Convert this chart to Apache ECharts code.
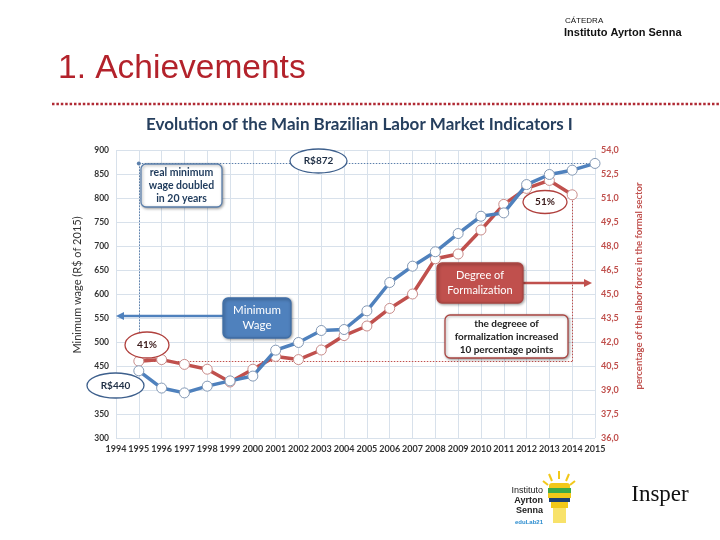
<!DOCTYPE html>
<html>
<head>
<meta charset="utf-8">
<script src="https://cdn.jsdelivr.net/npm/echarts@6/dist/echarts.min.js"></script>
<style>
html,body{margin:0;padding:0;background:#fff;}
#c{width:720px;height:540px;}
</style>
</head>
<body>
<div id="c"></div>
<script>
// ---- data ----
const years = ['1994','1995','1996','1997','1998','1999','2000','2001','2002','2003','2004','2005','2006','2007','2008','2009','2010','2011','2012','2013','2014','2015'];
const minimumWage = [null,440,404,394,408,419,429,483,499,524,526,565,624,658,688,726,762,769,828,849,858,872];
const formalization = [null,40.8,40.9,40.6,40.3,39.5,40.3,41.1,40.9,41.5,42.4,43.0,44.1,45.0,47.2,47.5,49.0,50.6,51.6,52.1,51.2,null];
const wageTicks = {min:300, max:900, step:50};
const formalTicks = {min:36, max:54, step:1.5};

const BLUE = '#4f81bd', RED = '#c0504d', NAVY = '#1f3b5c';
const F = 'Lato';

const chart = echarts.init(document.getElementById('c'), null, {renderer:'canvas'});

function boxText(x, y, w, h, lines, fill, stroke, color, fs, bold, lh){
  return {
    type:'group', z:100,
    children:[
      {type:'rect', shape:{x:x,y:y,width:w,height:h,r:5}, z:100,
       style:{fill:fill, stroke:stroke, lineWidth:1.3, shadowBlur:3, shadowColor:'rgba(0,0,0,0.35)', shadowOffsetY:1, shadowOffsetX:1}},
      {type:'text', z:101, x:x+w/2, y:y+h/2,
       style:{text:lines.join('\n'), fill:color, font:(bold?'bold ':'')+fs+'px '+F, align:'center', verticalAlign:'middle', lineHeight:lh||(fs+3)}}
    ]
  };
}
function ell(cx, cy, rx, ry, stroke, text, color){
  return {
    type:'group', z:100,
    children:[
      {type:'ellipse', z:100, shape:{cx:cx,cy:cy,rx:rx,ry:ry}, style:{fill:'#fff', stroke:stroke, lineWidth:1.3}},
      {type:'text', z:101, x:cx, y:cy, style:{text:text, fill:color, font:'bold 10px '+F, align:'center', verticalAlign:'middle'}}
    ]
  };
}

const option = {
  animation:false,
  backgroundColor:'#fff',
  grid:{left:116, right:125, top:150, bottom:102, containLabel:false},
  xAxis:{
    type:'category', data:years, boundaryGap:false,
    axisLine:{show:false}, axisTick:{show:false},
    axisLabel:{interval:0, fontFamily:F, fontSize:9, fontWeight:'bold', color:'#333', margin:7},
    splitLine:{show:true, lineStyle:{color:'#d8e1eb', width:1}}
  },
  yAxis:[
    {
      type:'value', min:wageTicks.min, max:wageTicks.max, interval:wageTicks.step,
      name:'Minimum wage (R$ of 2015)', nameLocation:'middle', nameRotate:90, nameGap:31,
      nameTextStyle:{fontFamily:F, fontSize:11, color:'#333', padding:[0,0,0,18]},
      axisLine:{show:false}, axisTick:{show:false},
      axisLabel:{fontFamily:F, fontSize:8.5, fontWeight:'bold', color:'#333', margin:7},
      splitLine:{show:true, lineStyle:{color:'#d8e1eb', width:1}}
    },
    {
      type:'value', min:formalTicks.min, max:formalTicks.max, interval:formalTicks.step, position:'right',
      name:'percentage of the labor force in the formal sector', nameLocation:'middle', nameRotate:90, nameGap:39,
      nameTextStyle:{fontFamily:F, fontSize:9.5, fontWeight:'bold', color:RED, padding:[0,0,0,16]},
      axisLine:{show:false}, axisTick:{show:false},
      axisLabel:{fontFamily:F, fontSize:9, fontWeight:'bold', color:RED, margin:6,
        formatter:function(v){return v.toFixed(1).replace('.',',');}},
      splitLine:{show:false}
    }
  ],
  series:[
    {
      name:'Formalization', type:'line', yAxisIndex:1, data:formalization, z:3,
      symbol:'circle', symbolSize:10, showAllSymbol:true, connectNulls:false,
      lineStyle:{color:RED, width:3.5},
      itemStyle:{color:'#fff', borderColor:'#c98c8a', borderWidth:1},
      markLine:{
        silent:true, symbol:['none','none'], label:{show:false}, z:1,
        lineStyle:{color:RED, type:[1.5,1.5], width:1},
        data:[
          [{coord:['1995', formalization[1]]},{coord:['2014', formalization[1]]}],
          [{coord:['2014', formalization[1]]},{coord:['2014', formalization[20]]}]
        ]
      }
    },
    {
      name:'Minimum wage', type:'line', yAxisIndex:0, data:minimumWage, z:4,
      symbol:'circle', symbolSize:10, showAllSymbol:true,
      lineStyle:{color:BLUE, width:3.5},
      itemStyle:{color:'#fff', borderColor:'#8499b5', borderWidth:1},
      markLine:{
        silent:true, label:{show:false}, z:1,
        lineStyle:{color:'#5b7fab', type:[1.5,1.5], width:1},
        data:[
          [{coord:['1995', minimumWage[21]], symbol:'circle', symbolSize:4},{coord:['2015', minimumWage[21]], symbol:'none'}],
          [{coord:['1995', minimumWage[21]], symbol:'none'},{coord:['1995', 505], symbol:'none'}]
        ]
      }
    }
  ],
  graphic:[
    // header
    {type:'text', left:565, top:17, style:{text:'CÁTEDRA', font:'8px "Liberation Sans"', fill:'#111'}},
    {type:'text', left:564, top:27, style:{text:'Instituto Ayrton Senna', font:'bold 11px "Liberation Sans"', fill:'#111'}},
    {type:'text', left:58, top:52, style:{text:'1. Achievements', font:'33.5px "Liberation Sans"', fill:'#b3222b'}},
    {type:'line', shape:{x1:52,y1:104,x2:720,y2:104}, style:{stroke:'#b02a34', lineWidth:2.5, lineDash:[2.5,1.9]}},
    {type:'text', left:146, top:116, style:{text:'Evolution of the Main Brazilian Labor Market Indicators I', font:'bold 17px '+F, fill:'#263f5e'}},
    // arrows
    {type:'line', z:99, shape:{x1:223,y1:316,x2:122,y2:316}, style:{stroke:BLUE, lineWidth:2.5}},
    {type:'polygon', z:99, shape:{points:[[116,316],[124,312],[124,320]]}, style:{fill:BLUE}},
    {type:'line', z:99, shape:{x1:523,y1:283,x2:586,y2:283}, style:{stroke:RED, lineWidth:2.5}},
    {type:'polygon', z:99, shape:{points:[[592,283],[584,279],[584,287]]}, style:{fill:RED}},
    // boxes
    boxText(141,164,81,43,['real minimum','wage doubled','in 20 years'],'#fff','#5b7fab',NAVY,10.5,true,13),
    boxText(223,298,68,40,['Minimum','Wage'],BLUE,'#3f6ea6','#fff',11.5,false,15),
    boxText(437,263,86,40,['Degree of','Formalization'],RED,'#a94542','#fff',11,false,15),
    boxText(445,315,123,43,['the degreee of','formalization increased','10 percentage points'],'#fff','#a94542','#222',10,true,13),
    // ellipses
    ell(318.5,161,28.5,12,'#3d5f8c','R$872','#1f2f45'),
    ell(147,345,22,13,'#b0403d','41%','#3a1a1a'),
    ell(115.5,385.5,28.5,12.5,'#3d5f8c','R$440','#1f2f45'),
    ell(545,202,22,11.5,'#b0403d','51%','#3a1a1a'),
    // bottom logos
    {type:'text', z:10, x:543, y:491, style:{text:'Instituto', font:'9px "Liberation Sans"', fill:'#222', align:'right', verticalAlign:'middle'}},
    {type:'text', z:10, x:543, y:501, style:{text:'Ayrton', font:'bold 9px "Liberation Sans"', fill:'#222', align:'right', verticalAlign:'middle'}},
    {type:'text', z:10, x:543, y:511, style:{text:'Senna', font:'bold 9px "Liberation Sans"', fill:'#222', align:'right', verticalAlign:'middle'}},
    {type:'text', z:10, x:543, y:522, style:{text:'eduLab21', font:'bold 6px "Liberation Sans"', fill:'#2a8ccf', align:'right', verticalAlign:'middle'}},
    {type:'line', shape:{x1:559,y1:471,x2:559,y2:479}, style:{stroke:'#f2c81a', lineWidth:2}},
    {type:'line', shape:{x1:549,y1:474,x2:552,y2:481}, style:{stroke:'#f2c81a', lineWidth:2}},
    {type:'line', shape:{x1:569,y1:474,x2:566,y2:481}, style:{stroke:'#f2c81a', lineWidth:2}},
    {type:'line', shape:{x1:543,y1:481,x2:548,y2:485}, style:{stroke:'#f2c81a', lineWidth:2}},
    {type:'line', shape:{x1:575,y1:481,x2:570,y2:485}, style:{stroke:'#f2c81a', lineWidth:2}},
    {type:'rect', shape:{x:549,y:483,width:21,height:5,r:[3,3,0,0]}, style:{fill:'#f2c81a'}},
    {type:'rect', shape:{x:548,y:488,width:23,height:5}, style:{fill:'#3daa48'}},
    {type:'rect', shape:{x:548,y:493,width:23,height:5}, style:{fill:'#f2c81a'}},
    {type:'rect', shape:{x:549,y:498,width:21,height:4}, style:{fill:'#1c3f73'}},
    {type:'rect', shape:{x:551,y:502,width:17,height:6}, style:{fill:'#f2c81a'}},
    {type:'rect', shape:{x:553,y:508,width:13,height:15}, style:{fill:'#f8e26a'}},
    {type:'text', x:660, y:495, style:{text:'Insper', font:'23px "Liberation Serif"', fill:'#111', align:'center', verticalAlign:'middle'}}
  ]
};
chart.setOption(option);
</script>
</body>
</html>
